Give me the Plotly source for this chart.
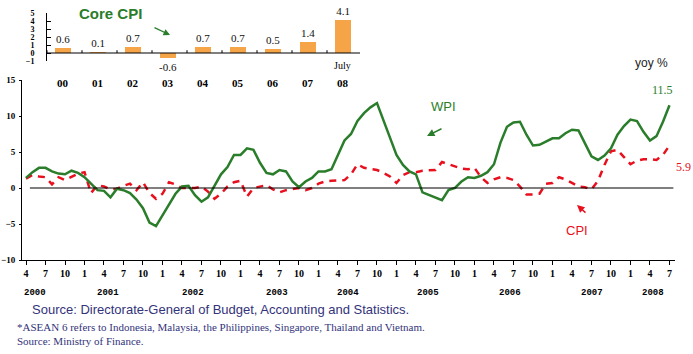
import plotly.graph_objects as go
import pandas as pd

W, H = 693, 354

# ---------------- data ----------------
months = pd.date_range("2000-04-01", periods=100, freq="MS")

wpi = [1.4, 2.2, 2.8, 2.8, 2.3, 2.0, 1.9, 2.4, 2.1, 1.5,
       0.6, -0.3, -0.4, -1.3, -0.1, -0.3, -0.7, -1.6, -2.8, -4.8,
       -5.3, -3.8, -2.4, -0.8, 0.2, 0.3, -1.0, -1.9, -1.3, 0.3,
       1.9, 2.9, 4.6, 4.6, 5.5, 5.3, 3.5, 2.1, 1.9, 2.5,
       2.3, 0.9, 0.1, 0.9, 1.4, 2.3, 2.3, 2.6, 4.5, 6.6,
       7.5, 9.3, 10.4, 11.2, 11.8, 9.5, 7.0, 4.6, 3.2, 2.3,
       1.9, -0.6, -1.0, -1.3, -1.7, -0.3, 0.0, 0.9, 1.5, 1.4,
       1.7, 2.2, 3.3, 6.3, 8.5, 9.1, 9.2, 7.4, 5.9, 6.0,
       6.4, 6.9, 6.9, 7.6, 8.1, 8.0, 6.2, 4.4, 3.9, 4.5,
       5.5, 7.4, 8.6, 9.5, 9.3, 7.8, 6.6, 7.2, 9.2, 11.5]

cpi = [1.3, 1.8, 1.6, 1.5, 0.5, 1.5, 1.1, 1.6, 2.0, 2.2,
       -0.7, 0.4, 0.2, -0.2, -0.1, 0.3, 0.6, -0.3, 0.8, -0.7,
       -1.5, -0.8, 0.8, 0.5, 0.0, 0.0, 0.0, 0.2, -0.5, -1.5,
       -0.8, 0.2, 0.8, 1.0, -1.2, 0.0, 0.2, 0.4, -0.2, -0.6,
       -0.3, -0.1, 0.0, -0.3, 0.0, 0.6, 0.9, 1.0, 1.1, 1.1,
       1.9, 3.3, 2.8, 2.6, 2.5, 2.1, 1.6, 0.7, 1.8, 2.2,
       2.2, 2.4, 2.5, 2.5, 3.6, 3.3, 3.1, 2.7, 2.6, 2.8,
       1.5, 0.7, 1.2, 1.5, 1.4, 1.1, 0.2, -0.9, -0.9, -0.8,
       0.6, 0.7, 1.5, 1.2, 0.7, 0.2, 0.1, -0.2, 1.0, 3.2,
       5.1, 5.3, 4.3, 3.3, 3.8, 4.0, 4.0, 3.9, 4.6, 5.9]

core_years = ["00", "01", "02", "03", "04", "05", "06", "07", "08"]
core_cpi = [0.6, 0.1, 0.7, -0.6, 0.7, 0.7, 0.5, 1.4, 4.1]

year_labels = ["2000", "2001", "2002", "2003", "2004", "2005", "2006", "2007", "2008"]
year_label_px = [35, 108, 193, 277, 348, 428, 510, 592, 653]

# ---------------- derived ----------------
xi = list(range(len(months)))
tick_idx = [i for i, m in enumerate(months) if m.month in (1, 4, 7, 10)]
tick_txt = [str(months[i].month) for i in tick_idx]

GREEN = "#2A7D2A"
RED = "#E8101E"
NAVY = "#33337A"
SERIF = "Liberation Serif"
SANS = "Liberation Sans"

def px(x):
    return x / W

def py(y):
    return 1 - y / H

fig = go.Figure()

fig.add_trace(go.Scatter(x=xi, y=cpi, mode="lines", name="CPI",
                         line=dict(color=RED, width=2.5, dash="7px,6px"),
                         xaxis="x", yaxis="y"))
fig.add_trace(go.Scatter(x=xi, y=wpi, mode="lines", name="WPI",
                         line=dict(color=GREEN, width=2.5),
                         xaxis="x", yaxis="y"))

fig.add_trace(go.Bar(x=list(range(len(core_years))), y=core_cpi,
                     text=[f"{v:.1f}" for v in core_cpi],
                     textposition="outside", constraintext="none",
                     cliponaxis=False,
                     textfont=dict(family=SERIF, size=11, color="#111"),
                     marker=dict(color="#F5A447", line=dict(width=0)),
                     width=0.43, xaxis="x2", yaxis="y2"))

x_left, x_right = 22, 675
y_top, y_bot = 80, 260
ins_l, ins_r = 47, 360
ins_top, ins_bot = 13, 61

fig.update_layout(
    width=W, height=H,
    margin=dict(l=0, r=0, t=0, b=0, autoexpand=False),
    paper_bgcolor="white", plot_bgcolor="rgba(0,0,0,0)",
    showlegend=False,
    bargap=0,
    xaxis=dict(domain=[px(x_left), px(x_right)], range=[-0.615, 99.85],
               automargin=False,
               tickmode="array", tickvals=tick_idx, ticktext=tick_txt,
               showline=True, linecolor="black", linewidth=1,
               ticks="outside", ticklen=4, tickcolor="black",
               showgrid=False, zeroline=False,
               tickfont=dict(family=SERIF, size=10, color="black", weight="bold"),
               anchor="y"),
    yaxis=dict(domain=[py(y_bot), py(y_top)], range=[-10, 15],
               automargin=False,
               tickvals=[-10, -5, 0, 5, 10, 15],
               showline=True, linecolor="black", linewidth=1,
               ticks="outside", ticklen=2, tickcolor="black",
               ticklabelstandoff=2,
               showgrid=False, zeroline=False,
               tickfont=dict(family=SERIF, size=9, color="black", weight="bold"),
               anchor="x"),
    xaxis2=dict(domain=[px(ins_l), px(ins_r)], range=[-0.457, 8.486],
                automargin=False,
                showticklabels=False, showline=False, ticks="",
                showgrid=False, zeroline=False, anchor="y2"),
    yaxis2=dict(domain=[py(ins_bot), py(ins_top)], range=[-1, 5],
                automargin=False,
                tickvals=[-1, 0, 1, 2, 3, 4, 5],
                showline=True, linecolor="black", linewidth=1,
                ticks="inside", ticklen=4, tickcolor="black",
                ticklabelstandoff=10,
                showgrid=False, zeroline=False,
                tickfont=dict(family=SERIF, size=8, color="black", weight="bold"),
                anchor="x2"),
)

# zero line on main chart
fig.add_shape(type="line", xref="x", yref="y", x0=0.6, x1=99.6, y0=0, y1=0,
              line=dict(color="black", width=1.2))
# inset axis line at zero with upward ticks
fig.add_shape(type="line", xref="x2", yref="y2", x0=-0.457, x1=8.486, y0=0, y1=0,
              line=dict(color="black", width=1.2))
for k in range(10):
    fig.add_shape(type="line", xref="x2", yref="y2", x0=-0.457 + k, x1=-0.457 + k,
                  y0=0, y1=0.35, line=dict(color="black", width=1))

def P(xp, yp, text, font, **kw):
    d = dict(x=px(xp), y=py(yp), xref="paper", yref="paper", text=text,
             showarrow=False, font=font, xanchor="center", yanchor="middle")
    d.update(kw)
    return d

def arrow(hx, hy, ax, ay, color, w=1.5):
    return dict(x=px(hx), y=py(hy), xref="paper", yref="paper", text="",
                showarrow=True, ax=ax, ay=ay, arrowhead=2, arrowsize=1,
                arrowwidth=w, arrowcolor=color)

ann = []
# inset category labels
for i, lab in enumerate(core_years):
    ann.append(dict(x=i, y=py(83), xref="x2", yref="paper", text=f"<b>{lab}</b>",
                    showarrow=False, xanchor="center", yanchor="middle",
                    font=dict(family=SERIF, size=11, color="black")))
ann.append(dict(x=8, y=py(65), xref="x2", yref="paper", text="July",
                showarrow=False, xanchor="center", yanchor="middle",
                font=dict(family=SERIF, size=10, color="black")))
# year labels
for lab, xp in zip(year_labels, year_label_px):
    ann.append(P(xp, 293, f"<b>{lab}</b>",
                 dict(family="Liberation Mono", size=9, color="black")))
# titles / labels
ann += [
    P(110, 14, "<b>Core CPI</b>", dict(family=SANS, size=15, color=GREEN)),
    arrow(170, 35, -17, -8, GREEN, 1.3),
    P(651, 63, "yoy %", dict(family=SANS, size=12, color="#222")),
    P(444, 107, "WPI", dict(family=SANS, size=13, color=GREEN)),
    arrow(427, 136, 16, -8, GREEN),
    P(577, 230, "CPI", dict(family=SANS, size=13, color=RED)),
    arrow(577, 205, 10, 9, RED),
    P(662, 90, f"{wpi[-1]:.1f}", dict(family=SERIF, size=12, color=GREEN)),
    P(683, 167, f"{cpi[-1]:.1f}", dict(family=SERIF, size=12, color=RED)),
    P(30, 309, "Source: Directorate-General of Budget, Accounting and Statistics.",
      dict(family=SANS, size=13, color=NAVY), xanchor="left"),
    P(15, 327, "*ASEAN 6 refers to Indonesia, Malaysia, the Philippines, Singapore, Thailand and Vietnam.",
      dict(family=SERIF, size=11, color=NAVY), xanchor="left"),
    P(15, 341, "Source: Ministry of Finance.",
      dict(family=SERIF, size=11, color=NAVY), xanchor="left"),
]
fig.update_layout(annotations=ann)

fig.write_html("out.html")
